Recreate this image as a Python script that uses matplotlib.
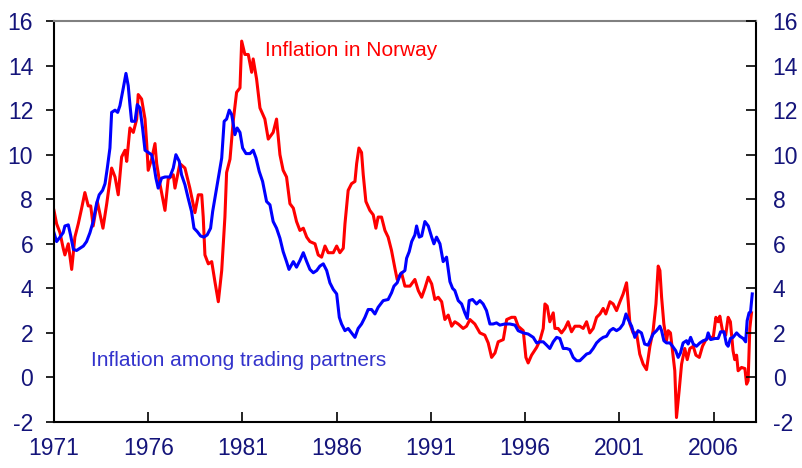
import numpy as np
import matplotlib
matplotlib.use("Agg")
import matplotlib.pyplot as plt

plt.rcParams['font.family'] = ['Liberation Sans', 'DejaVu Sans']
plt.rcParams['axes.unicode_minus'] = False

# Inflation in Norway (decimal year, percent)
norway_years = [
    1971.0, 1971.14, 1971.32, 1971.49, 1971.58, 1971.76, 1971.94, 1972.11, 1972.29, 1972.47,
    1972.64, 1972.82, 1972.95, 1973.08, 1973.3, 1973.6, 1973.8, 1974.06, 1974.24, 1974.41,
    1974.59, 1974.77, 1974.86, 1975.03, 1975.21, 1975.39, 1975.47, 1975.65, 1975.83, 1975.92,
    1976.0, 1976.18, 1976.36, 1976.45, 1976.62, 1976.89, 1977.06, 1977.33, 1977.42, 1977.68,
    1977.95, 1978.21, 1978.48, 1978.66, 1978.84, 1978.92, 1979.01, 1979.19, 1979.37, 1979.54,
    1979.72, 1979.9, 1980.07, 1980.16, 1980.34, 1980.51, 1980.69, 1980.87, 1980.96, 1981.13,
    1981.31, 1981.49, 1981.57, 1981.75, 1981.93, 1982.19, 1982.37, 1982.63, 1982.81, 1982.99,
    1983.16, 1983.34, 1983.52, 1983.7, 1983.87, 1984.05, 1984.23, 1984.41, 1984.58, 1984.85,
    1985.02, 1985.2, 1985.38, 1985.55, 1985.82, 1986.0, 1986.17, 1986.35, 1986.44, 1986.61,
    1986.79, 1986.97, 1987.06, 1987.18, 1987.32, 1987.41, 1987.55, 1987.76, 1987.94, 1988.08,
    1988.2, 1988.38, 1988.56, 1988.73, 1988.91, 1989.09, 1989.21, 1989.44, 1989.62, 1989.89,
    1990.15, 1990.33, 1990.51, 1990.68, 1990.86, 1991.04, 1991.21, 1991.39, 1991.57, 1991.74,
    1991.92, 1992.1, 1992.27, 1992.45, 1992.71, 1992.89, 1993.07, 1993.33, 1993.6, 1993.86,
    1994.04, 1994.22, 1994.4, 1994.57, 1994.84, 1995.02, 1995.28, 1995.46, 1995.63, 1995.9,
    1996.04, 1996.16, 1996.34, 1996.61, 1996.78, 1996.96, 1997.05, 1997.17, 1997.31, 1997.49,
    1997.58, 1997.75, 1997.93, 1998.11, 1998.28, 1998.46, 1998.64, 1998.9, 1999.08, 1999.26,
    1999.43, 1999.61, 1999.79, 1999.97, 2000.14, 2000.28, 2000.5, 2000.67, 2000.85, 2001.03,
    2001.2, 2001.38, 2001.47, 2001.56, 2001.73, 2001.91, 2002.08, 2002.26, 2002.44, 2002.62,
    2002.79, 2002.94, 2003.06, 2003.15, 2003.24, 2003.36, 2003.5, 2003.59, 2003.71, 2003.82,
    2003.94, 2004.03, 2004.17, 2004.3, 2004.47, 2004.6, 2004.74, 2004.92, 2005.06, 2005.24,
    2005.41, 2005.59, 2005.76, 2005.98, 2006.12, 2006.24, 2006.33, 2006.47, 2006.64, 2006.77,
    2006.89, 2007.03, 2007.12, 2007.22, 2007.3, 2007.48, 2007.66, 2007.75, 2007.83, 2007.92,
    2008.01,
]
norway_values = [
    7.5, 6.9, 6.5, 5.8, 5.5, 6.0, 4.85, 6.3, 6.9, 7.6,
    8.3, 7.7, 7.7, 6.8, 7.9, 6.7, 7.8, 9.4, 9.0, 8.2,
    9.9, 10.2, 9.7, 11.2, 11.0, 11.6, 12.7, 12.5, 11.6, 10.5,
    9.3, 9.8, 10.5, 9.6, 8.7, 7.5, 8.9, 9.1, 8.5, 9.6,
    9.4, 8.5, 7.4, 8.2, 8.2, 7.2, 5.5, 5.1, 5.2, 4.3,
    3.4, 4.8, 7.2, 9.2, 9.8, 11.5, 12.8, 13.0, 15.1, 14.5,
    14.5, 13.7, 14.3, 13.4, 12.1, 11.6, 10.7, 11.0, 11.6, 10.0,
    9.3, 9.0, 7.8, 7.6, 7.0, 6.6, 6.7, 6.3, 6.1, 6.0,
    5.5, 5.4, 5.9, 5.6, 5.6, 5.9, 5.6, 5.8, 6.9, 8.4,
    8.7, 8.8, 9.6, 10.3, 10.1, 9.1, 7.9, 7.5, 7.3, 6.7,
    7.2, 7.2, 6.6, 6.3, 5.7, 4.9, 4.4, 4.7, 4.1, 4.1,
    4.4, 3.9, 3.6, 4.0, 4.5, 4.2, 3.5, 3.6, 3.4, 2.6,
    2.8, 2.3, 2.5, 2.4, 2.2, 2.3, 2.6, 2.4, 2.0, 1.9,
    1.55, 0.9, 1.1, 1.6, 1.7, 2.6, 2.7, 2.7, 2.3, 2.1,
    0.9, 0.65, 1.0, 1.35, 1.65, 2.2, 3.3, 3.2, 2.5, 2.9,
    2.2, 2.2, 2.0, 2.2, 2.5, 2.05, 2.3, 2.3, 2.2, 2.5,
    2.0, 2.2, 2.7, 2.85, 3.1, 2.85, 3.4, 3.3, 3.0, 3.4,
    3.75, 4.25, 3.4, 2.4, 2.0, 2.0, 1.05, 0.6, 0.35, 1.4,
    2.1, 3.3, 5.0, 4.8, 3.6, 2.4, 1.65, 2.1, 2.0, 1.2,
    0.3, -1.8, -0.6, 0.6, 1.3, 0.8, 1.3, 1.4, 1.0, 0.9,
    1.4, 1.7, 1.8, 1.8, 2.7, 2.5, 2.75, 2.1, 1.9, 2.7,
    2.5, 1.2, 0.8, 1.0, 0.3, 0.45, 0.4, -0.3, -0.15, 2.2,
    2.9,
]

# Inflation among trading partners (decimal year, percent)
partners_years = [
    1971.0, 1971.14, 1971.32, 1971.49, 1971.58, 1971.76, 1971.88, 1972.03, 1972.2, 1972.38,
    1972.56, 1972.73, 1972.91, 1973.08, 1973.26, 1973.4, 1973.58, 1973.71, 1973.83, 1973.97,
    1974.06, 1974.24, 1974.38, 1974.5, 1974.68, 1974.82, 1974.94, 1975.03, 1975.12, 1975.3,
    1975.42, 1975.56, 1975.7, 1975.83, 1976.0, 1976.18, 1976.27, 1976.41, 1976.53, 1976.71,
    1976.89, 1977.15, 1977.33, 1977.47, 1977.65, 1977.77, 1977.95, 1978.12, 1978.3, 1978.43,
    1978.6, 1978.78, 1978.96, 1979.13, 1979.31, 1979.42, 1979.54, 1979.72, 1979.9, 1980.03,
    1980.16, 1980.3, 1980.43, 1980.51, 1980.6, 1980.72, 1980.87, 1981.01, 1981.19, 1981.4,
    1981.57, 1981.72, 1981.89, 1982.07, 1982.28, 1982.46, 1982.63, 1982.81, 1982.99, 1983.16,
    1983.34, 1983.47, 1983.7, 1983.87, 1984.05, 1984.23, 1984.41, 1984.58, 1984.76, 1984.94,
    1985.11, 1985.29, 1985.47, 1985.64, 1985.82, 1986.0, 1986.14, 1986.26, 1986.44, 1986.61,
    1986.79, 1986.97, 1987.14, 1987.32, 1987.5, 1987.67, 1987.85, 1988.03, 1988.2, 1988.47,
    1988.73, 1988.91, 1989.04, 1989.21, 1989.39, 1989.62, 1989.71, 1989.85, 1989.98, 1990.15,
    1990.24, 1990.38, 1990.51, 1990.68, 1990.86, 1991.04, 1991.16, 1991.3, 1991.48, 1991.65,
    1991.83, 1992.01, 1992.15, 1992.27, 1992.45, 1992.63, 1992.8, 1992.93, 1993.03, 1993.21,
    1993.42, 1993.6, 1993.77, 1993.95, 1994.13, 1994.3, 1994.48, 1994.66, 1994.92, 1995.19,
    1995.46, 1995.63, 1995.9, 1996.16, 1996.43, 1996.61, 1996.78, 1996.96, 1997.14, 1997.31,
    1997.49, 1997.67, 1997.84, 1998.02, 1998.2, 1998.37, 1998.55, 1998.73, 1998.9, 1999.08,
    1999.26, 1999.43, 1999.61, 1999.79, 1999.97, 2000.14, 2000.32, 2000.5, 2000.67, 2000.85,
    2001.03, 2001.2, 2001.35, 2001.47, 2001.65, 2001.82, 2001.99, 2002.17, 2002.34, 2002.52,
    2002.79, 2002.97, 2003.15, 2003.24, 2003.36, 2003.5, 2003.68, 2003.82, 2003.99, 2004.12,
    2004.24, 2004.38, 2004.56, 2004.65, 2004.78, 2004.92, 2005.09, 2005.27, 2005.45, 2005.62,
    2005.71, 2005.84, 2006.07, 2006.24, 2006.37, 2006.55, 2006.68, 2006.77, 2006.89, 2007.03,
    2007.22, 2007.39, 2007.57, 2007.7, 2007.78, 2007.88, 2007.96, 2008.05,
]
partners_values = [
    6.5, 6.1, 6.3, 6.5, 6.8, 6.85, 6.4, 5.75, 5.7, 5.8,
    5.9, 6.1, 6.5, 7.0, 7.8, 8.2, 8.4, 8.7, 9.4, 10.3,
    11.9, 12.0, 11.9, 12.2, 13.0, 13.65, 13.1, 12.25, 11.5, 11.5,
    12.25, 12.1, 11.2, 10.2, 10.1, 10.0, 9.7, 8.95, 8.5, 8.95,
    9.0, 9.0, 9.4, 10.0, 9.7, 9.1, 8.65, 8.05, 7.45, 6.7,
    6.55, 6.35, 6.3, 6.4, 6.7, 7.45, 8.05, 8.95, 9.85, 11.5,
    11.6, 12.0, 11.8, 11.4, 10.9, 11.2, 11.0, 10.3, 10.05, 10.05,
    10.2, 9.85, 9.25, 8.8, 7.9, 7.75, 7.0, 6.7, 6.25, 5.65,
    5.2, 4.85, 5.2, 4.95, 5.25, 5.6, 5.2, 4.85, 4.7, 4.8,
    5.0, 5.1, 4.8, 4.25, 3.95, 3.75, 2.7, 2.4, 2.1, 2.2,
    2.0, 1.8, 2.2, 2.4, 2.7, 3.05, 3.05, 2.85, 3.15, 3.45,
    3.5, 3.8, 4.1, 4.25, 4.65, 4.8, 5.35, 5.65, 6.1, 6.4,
    6.8, 6.3, 6.35, 7.0, 6.8, 6.3, 6.0, 6.3, 6.0, 5.2,
    5.4, 4.3, 4.0, 3.9, 3.45, 3.3, 2.9, 2.65, 3.45, 3.5,
    3.3, 3.45, 3.3, 3.0, 2.4, 2.4, 2.45, 2.35, 2.4, 2.4,
    2.35, 2.1, 2.0, 1.95, 1.8, 1.55, 1.6, 1.6, 1.45, 1.3,
    1.6, 1.8, 1.75, 1.3, 1.3, 1.25, 0.9, 0.75, 0.75, 0.9,
    1.05, 1.1, 1.3, 1.55, 1.7, 1.8, 1.85, 2.1, 2.2, 2.1,
    2.2, 2.4, 2.85, 2.6, 2.3, 1.8, 2.1, 2.0, 1.5, 1.45,
    1.95, 2.1, 2.3, 2.1, 1.65, 1.55, 1.55, 1.4, 1.2, 0.9,
    1.1, 1.55, 1.65, 1.5, 1.8, 1.5, 1.4, 1.55, 1.65, 1.7,
    2.0, 1.7, 1.75, 1.75, 2.05, 2.05, 1.5, 1.4, 1.75, 1.8,
    2.0, 1.85, 1.75, 1.6, 2.55, 2.9, 2.95, 3.75,
]

year_ticks = [1971, 1976, 1981, 1986, 1991, 1996, 2001, 2006]
value_ticks = [-2, 0, 2, 4, 6, 8, 10, 12, 14, 16]

label_color = '#14147A'

fig = plt.figure(figsize=(8.03, 4.68), dpi=100)
ax = fig.add_axes([0.0672, 0.0983, 0.8743, 0.8567])

ax.plot(norway_years, norway_values, color='#FF0000', lw=2.2)
ax.plot(partners_years, partners_values, color='#0000FF', lw=2.2)

ax.set_xlim(1971, 2008.25)
ax.set_ylim(-2, 16)
ax.set_xticks(year_ticks)
ax.set_xticklabels([str(y) for y in year_ticks])
ax.set_yticks(value_ticks)

ax.tick_params(axis='x', direction='in', length=7, width=1.2, pad=11,
               labelsize=16.5, labelcolor=label_color)
ax.tick_params(axis='y', direction='out', length=6, width=1.2, pad=9,
               labelsize=16.5, labelcolor=label_color)

for side in ['left', 'bottom', 'right']:
    ax.spines[side].set_color('black')
    ax.spines[side].set_linewidth(1.5)
ax.spines['top'].set_color('#808080')
ax.spines['top'].set_linewidth(1.5)

ax2 = ax.twinx()
ax2.set_ylim(-2, 16)
ax2.set_yticks(value_ticks)
ax2.tick_params(axis='y', direction='in', length=7, width=1.2, pad=12,
                labelsize=16.5, labelcolor=label_color)
for side in ax2.spines:
    ax2.spines[side].set_visible(False)

ax.text(1982.19, 14.44, 'Inflation in Norway', color='#FF0000', fontsize=15,
        ha='left', va='baseline')
ax.text(1972.99, 0.52, 'Inflation among trading partners', color='#3333CC',
        fontsize=15, ha='left', va='baseline')

fig.savefig('out.png', dpi=100)
